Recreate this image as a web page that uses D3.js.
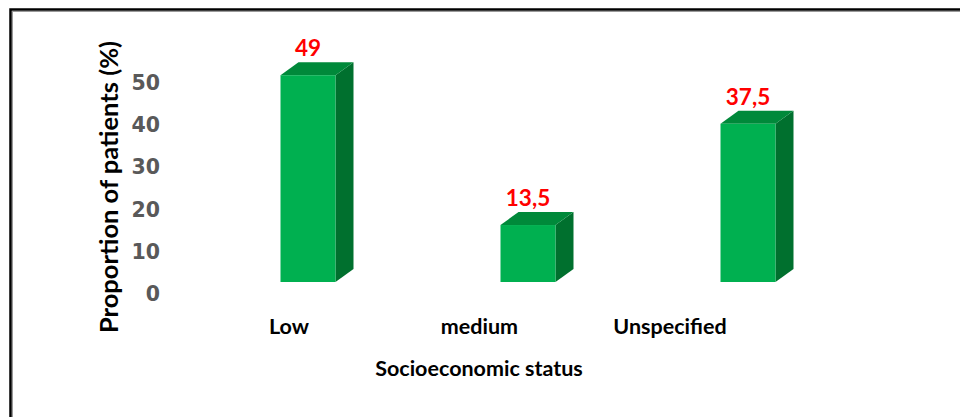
<!DOCTYPE html>
<html>
<head>
<meta charset="utf-8">
<script src="https://cdn.jsdelivr.net/npm/d3@7"></script>
<style>
  html, body { margin: 0; padding: 0; background: #fff; }
  svg { display: block; }
</style>
</head>
<body>
<svg id="chart" width="960" height="417"></svg>
<script>
// Share of patients by socioeconomic status
const categories = ["Low", "medium", "Unspecified"];
const values = [49, 13.5, 37.5];
const valueLabels = ["49", "13,5", "37,5"];
const yTicks = [0, 10, 20, 30, 40, 50];

const svg = d3.select("#chart");

// Chart frame
svg.append("rect")
  .attr("x", 10.5).attr("y", 9.5)
  .attr("width", 980).attr("height", 430)
  .attr("fill", "#fff")
  .attr("stroke", "#000").attr("stroke-width", 2.5);
svg.append("rect")
  .attr("x", 12.5).attr("y", 11.5)
  .attr("width", 980).attr("height", 430)
  .attr("fill", "none")
  .attr("stroke", "#9a9a9a").attr("stroke-width", 1);

// Scales
const y = d3.scaleLinear().domain([0, 50]).range([282, 71]);
const x = d3.scalePoint().domain(categories).range([308, 748]);
const xLabel = d3.scalePoint().domain(categories).range([289, 670]);
const barW = 55;
const depthX = 18, depthY = 13;

const colFront = "#00b050", colTop = "#00893a", colSide = "#00702e";
const textFont = "Lato, 'Open Sans', sans-serif";

// Y axis tick labels
const yAxis = d3.axisLeft(y).tickValues(yTicks).tickSize(0).tickPadding(0)
  .tickFormat(d3.format("d"));
const gy = svg.append("g")
  .attr("transform", "translate(160,12)")
  .call(yAxis);
gy.select(".domain").remove();
gy.selectAll("text")
  .attr("font-family", "'DejaVu Sans', Verdana, sans-serif")
  .attr("font-weight", "bold")
  .attr("font-size", 20.5)
  .attr("fill", "#595959");

// 3D bars
const data = categories.map((c, i) => ({ c, v: values[i], label: valueLabels[i] }));
const bars = svg.append("g").selectAll("g").data(data).join("g");

bars.each(function(d) {
  const g = d3.select(this);
  const x0 = x(d.c) - barW / 2, x1 = x0 + barW;
  const yT = y(d.v), yB = y(0);
  // side face
  g.append("path")
    .attr("d", `M${x1},${yT} L${x1 + depthX},${yT - depthY} L${x1 + depthX},${yB - depthY} L${x1},${yB} Z`)
    .attr("fill", colSide);
  // top face
  g.append("path")
    .attr("d", `M${x0},${yT} L${x0 + depthX},${yT - depthY} L${x1 + depthX},${yT - depthY} L${x1},${yT} Z`)
    .attr("fill", colTop);
  // front face
  g.append("rect")
    .attr("x", x0).attr("y", yT)
    .attr("width", barW).attr("height", yB - yT)
    .attr("fill", colFront);
  // value label
  g.append("text")
    .attr("x", x(d.c))
    .attr("y", yT - depthY - 6)
    .attr("text-anchor", "middle")
    .attr("font-family", textFont)
    .attr("font-weight", "bold")
    .attr("font-size", 22.5)
    .attr("fill", "#ff0000")
    .text(d.label);
});

// Category labels
svg.append("g").selectAll("text").data(categories).join("text")
  .attr("x", d => xLabel(d))
  .attr("y", 334)
  .attr("text-anchor", "middle")
  .attr("font-family", textFont)
  .attr("font-weight", "bold")
  .attr("font-size", 21.5)
  .attr("fill", "#000")
  .text(d => d);

// Axis titles
svg.append("text")
  .attr("x", 479).attr("y", 376)
  .attr("text-anchor", "middle")
  .attr("font-family", textFont)
  .attr("font-weight", "bold")
  .attr("font-size", 21.5)
  .attr("fill", "#000")
  .text("Socioeconomic status");

svg.append("text")
  .attr("transform", "translate(118,187) rotate(-90)")
  .attr("text-anchor", "middle")
  .attr("font-family", textFont)
  .attr("font-weight", "bold")
  .attr("font-size", 25.5)
  .attr("fill", "#000")
  .text("Proportion of patients (%)");
</script>
</body>
</html>
